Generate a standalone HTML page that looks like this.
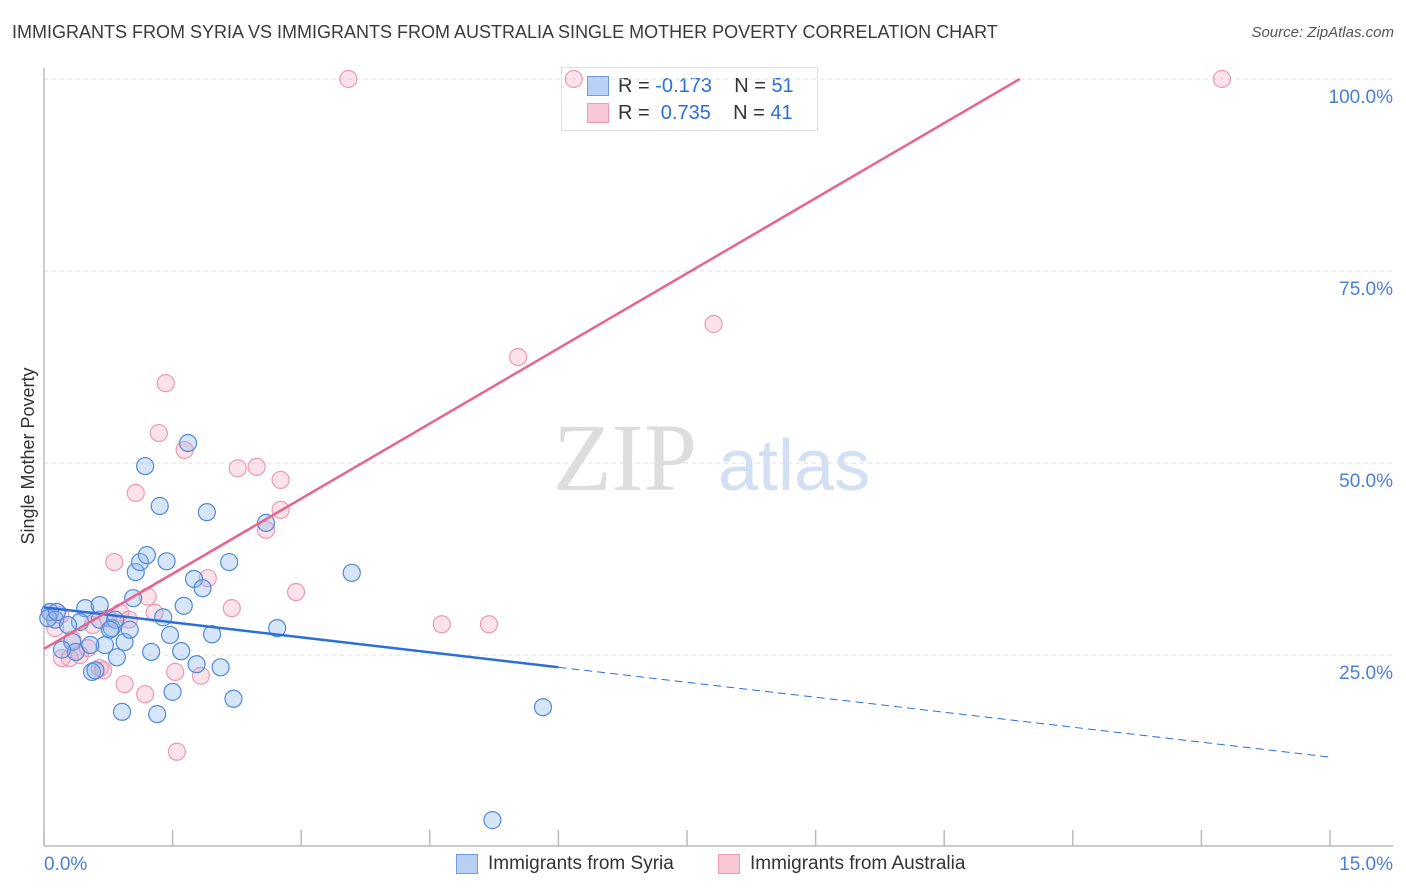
<!DOCTYPE html>
<html><head><meta charset="utf-8">
<style>
body{margin:0;background:#fff;font-family:"Liberation Sans",sans-serif;}
#wrap{position:relative;width:1406px;height:892px;overflow:hidden;}
.t{position:absolute;white-space:nowrap;}
</style></head>
<body>
<div id="wrap">
<div class="t" style="left:12px;top:22px;font-size:18px;color:#3a3a3a;">IMMIGRANTS FROM SYRIA VS IMMIGRANTS FROM AUSTRALIA SINGLE MOTHER POVERTY CORRELATION CHART</div>
<div class="t" style="right:12px;top:24px;font-size:15px;color:#555;font-style:italic;">Source: ZipAtlas.com</div>
<div style="position:absolute;left:561px;top:67px;width:255px;height:62px;border:1px solid #ddd;background:#fff;font-size:20px;">
 <div style="position:absolute;left:25px;top:8px;width:20px;height:18px;background:#b8d0f4;border:1px solid #6f9be0;"></div>
 <div class="t" style="left:56px;top:7px;color:#333;">R = <span style="color:#2a6fd8">-0.173</span>&nbsp;&nbsp;&nbsp; N = <span style="color:#2a6fd8">51</span></div>
 <div style="position:absolute;left:25px;top:35px;width:20px;height:18px;background:#f8c8d6;border:1px solid #ec9ab4;"></div>
 <div class="t" style="left:56px;top:34px;color:#333;">R = &nbsp;<span style="color:#2a6fd8">0.735</span>&nbsp;&nbsp;&nbsp; N = <span style="color:#2a6fd8">41</span></div>
</div>
<svg id="svg" width="1406" height="892" style="position:absolute;left:0;top:0"></svg>
</div>
<script>
const yTicks=[25,50,75,100];
const yTickLabels=["25.0%","50.0%","75.0%","100.0%"];
const xTickCount=10;
const syriaX=[0.07,0.13,0.05,0.48,0.42,0.65,0.33,0.37,0.56,0.60,0.71,0.79,0.85,0.91,0.94,1.00,1.04,1.07,1.12,1.18,1.20,1.25,1.32,1.35,1.39,1.43,1.47,1.50,1.60,1.63,1.68,1.75,1.78,1.85,1.90,1.96,2.06,2.16,2.21,2.59,2.72,3.59,5.82,5.23,0.65,0.21,0.83,0.15,0.28,0.77,0.54];
const syriaY=[30.6,29.6,29.8,31.1,29.3,29.6,26.7,25.4,22.8,23.0,26.3,28.5,24.7,17.6,26.7,28.3,32.4,35.8,37.1,49.6,38.0,25.4,17.3,44.4,29.9,37.2,27.6,20.2,25.5,31.4,52.6,34.9,23.8,33.7,43.6,27.7,23.4,37.1,19.3,42.2,28.5,35.7,18.2,3.5,31.5,25.7,29.6,30.6,28.9,28.3,26.3];
const ausX=[0.07,0.13,0.21,0.30,0.42,0.51,0.65,0.69,0.75,0.82,0.89,0.94,0.99,1.07,1.18,1.21,1.29,1.34,1.42,1.53,1.55,1.64,1.83,1.91,2.19,2.26,2.48,2.59,2.76,2.76,2.94,3.55,4.64,5.19,5.53,6.18,7.81,13.74,0.57,0.33,0.19];
const ausY=[30.6,28.5,24.6,24.6,25.0,25.9,23.3,23.0,29.8,37.1,30.5,21.2,29.6,46.1,19.9,32.6,30.5,53.9,60.4,22.8,12.4,51.7,22.3,35.0,31.1,49.3,49.5,41.3,47.8,43.9,33.2,100,29.0,29.0,63.8,100,68.1,100,28.9,27.0,30.2];
const syriaTrend=[31.2,11.7]; // y at x=0, x=15
const syriaSolidEnd=6.0;
const ausTrend=[25.8,6.52]; // intercept, slope
const X0=44,X1=1330,Y0=847,Y100=79;
const sx=v=>X0+(v/15)*(X1-X0);
const sy=v=>Y0-(v/100)*(Y0-Y100);
const svg=document.getElementById('svg');
const NS='http://www.w3.org/2000/svg';
function mk(tag,attrs,parent){const e=document.createElementNS(NS,tag);for(const k in attrs)e.setAttribute(k,attrs[k]);(parent||svg).appendChild(e);return e;}
yTicks.forEach((t,i)=>{
 const g=mk('line',{x1:X0,x2:1393,y1:sy(t),y2:sy(t),stroke:'#ddd','stroke-dasharray':'4,4'});
 
 
 const tx=mk('text',{x:1393,y:sy(t)+24,'text-anchor':'end','font-size':19,fill:'#4a7fd6','font-family':'Liberation Sans'});
 tx.textContent=yTickLabels[i];
 
 
});
const ya=mk('line',{x1:X0,x2:X0,y1:68,y2:846,stroke:'#bbb','stroke-width':1.5});


const xa=mk('line',{x1:X0,x2:1393,y1:846,y2:846,stroke:'#bbb','stroke-width':1.5});


for(let i=0;i<=xTickCount;i++){
 const v=15*i/xTickCount;
 const tk=mk('line',{x1:sx(v),x2:sx(v),y1:830,y2:846,stroke:'#bbb','stroke-width':1.5});
 
 
}
const xl0=mk('text',{x:44,y:870,'font-size':19,fill:'#4a7fd6','font-family':'Liberation Sans'});xl0.textContent='0.0%';


const xl1=mk('text',{x:1393,y:870,'text-anchor':'end','font-size':19,fill:'#4a7fd6','font-family':'Liberation Sans'});xl1.textContent='15.0%';


const yt=mk('text',{x:34,y:456,'text-anchor':'middle','font-size':18,fill:'#333','font-family':'Liberation Sans',transform:'rotate(-90 34 456)'});yt.textContent='Single Mother Poverty';


const wm=mk('text',{x:553,y:490,'font-size':96,fill:'#ddd','font-family':'Liberation Serif'});wm.textContent='ZIP';


const wm2=mk('text',{x:718,y:490,'font-size':72,fill:'#d3e0f3','font-family':'Liberation Sans'});wm2.textContent='atlas';


ausX.forEach((x,i)=>{
 const c=mk('circle',{cx:sx(x),cy:sy(ausY[i]),r:8.5,fill:'rgba(244,160,185,0.3)',stroke:'#ec9ab4','stroke-width':1.2});
 
 
});
syriaX.forEach((x,i)=>{
 const c=mk('circle',{cx:sx(x),cy:sy(syriaY[i]),r:8.5,fill:'rgba(140,180,235,0.35)',stroke:'#4f8ad8','stroke-width':1.2});
 
 
});
const sY=x=>syriaTrend[0]+(syriaTrend[1]-syriaTrend[0])*x/15;
const t1=mk('line',{x1:sx(0),y1:sy(sY(0)),x2:sx(syriaSolidEnd),y2:sy(sY(syriaSolidEnd)),stroke:'#2a6fd8','stroke-width':2.5});


const t2=mk('line',{x1:sx(syriaSolidEnd),y1:sy(sY(syriaSolidEnd)),x2:sx(15),y2:sy(sY(15)),stroke:'#2a6fd8','stroke-width':1,'stroke-dasharray':'8,5'});


const xEnd=(100-ausTrend[0])/ausTrend[1];
const t3=mk('line',{x1:sx(0),y1:sy(ausTrend[0]),x2:sx(xEnd),y2:sy(100),stroke:'#e8648f','stroke-width':2.5});


</script>
<div style="position:absolute;left:456px;top:853px;font-size:19px;color:#333;">
 <div style="position:absolute;left:0;top:0;width:240px;">
  <div style="position:absolute;left:0;top:1px;width:20px;height:18px;background:#b8d0f4;border:1px solid #6f9be0;"></div>
  <div class="t" style="left:32px;top:0;">Immigrants from Syria</div></div>
 <div style="position:absolute;left:262px;top:0;width:280px;">
  <div style="position:absolute;left:0;top:1px;width:20px;height:18px;background:#f8c8d6;border:1px solid #ec9ab4;"></div>
  <div class="t" style="left:32px;top:0;">Immigrants from Australia</div></div>
</div>
</body></html>
